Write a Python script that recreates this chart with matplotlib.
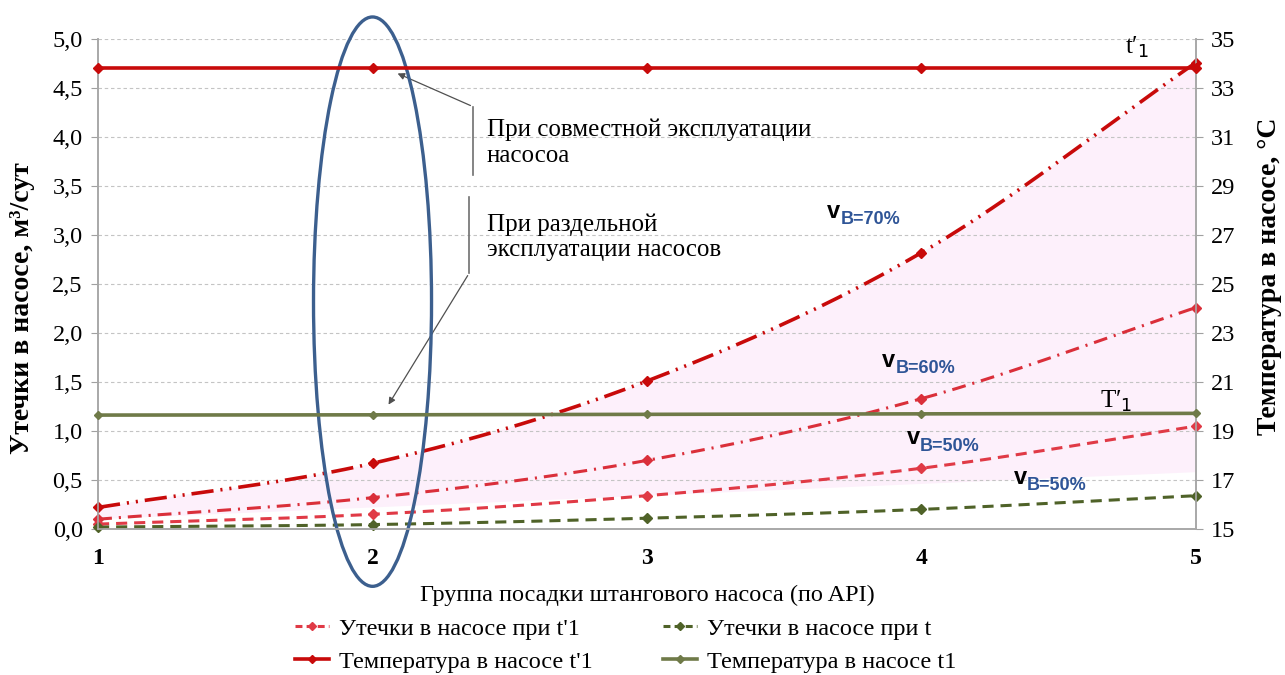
import matplotlib
matplotlib.use('Agg')
import matplotlib.pyplot as plt
from matplotlib.lines import Line2D
from matplotlib.patches import Ellipse
import numpy as np

plt.rcParams['font.family'] = ['Liberation Serif', 'DejaVu Serif']
plt.rcParams['lines.scale_dashes'] = False

# группа посадки (по API)
groups = [1, 2, 3, 4, 5]

# утечки, м3/сут
leak_70 = [0.22, 0.67, 1.51, 2.82, 4.76]
leak_60 = [0.10, 0.32, 0.70, 1.33, 2.26]
leak_50 = [0.05, 0.15, 0.34, 0.62, 1.05]
leak_t = [0.02, 0.045, 0.11, 0.20, 0.34]

# температура, °C
temp_t1p = [33.8, 33.8, 33.8, 33.8, 33.8]
temp_t1 = [19.65, 19.66, 19.68, 19.70, 19.72]

# нижняя граница заливки
shade_x = [5, 1]
shade_low = [0.58, 0.10]

RED = '#c80a0a'
RED2 = '#da2f3a'
RED3 = '#e03a46'
GREEN = '#4f6228'
GREEN2 = '#6f7a48'
BLUE = '#2f5597'


def smooth(x, y, n=40):
    # сглаживание как в Excel (Catmull-Rom)
    x = np.asarray(x, float)
    y = np.asarray(y, float)
    px = np.r_[2 * x[0] - x[1], x, 2 * x[-1] - x[-2]]
    py = np.r_[2 * y[0] - y[1], y, 2 * y[-1] - y[-2]]
    xs, ys = [], []
    t = np.linspace(0, 1, n)
    for i in range(1, len(px) - 2):
        p0, p1, p2, p3 = px[i - 1:i + 3]
        q0, q1, q2, q3 = py[i - 1:i + 3]
        xs.append(0.5 * (2 * p1 + (-p0 + p2) * t + (2 * p0 - 5 * p1 + 4 * p2 - p3) * t ** 2
                         + (-p0 + 3 * p1 - 3 * p2 + p3) * t ** 3))
        ys.append(0.5 * (2 * q1 + (-q0 + q2) * t + (2 * q0 - 5 * q1 + 4 * q2 - q3) * t ** 2
                         + (-q0 + 3 * q1 - 3 * q2 + q3) * t ** 3))
    return np.concatenate(xs), np.concatenate(ys)


fig = plt.figure(figsize=(12.85, 6.75), dpi=100)
ax = fig.add_axes([0.0763, 0.2163, 0.8544, 0.7259])
ax2 = ax.twinx()

# заливка под кривой 70 %
sx, sy = smooth(groups, leak_70)
ax.fill(np.r_[sx, shade_x], np.r_[sy, shade_low], color='#fdf0fb', lw=0, zorder=0)

curves = [
    (leak_70, RED, 2.6, (0, (16, 5, 1.5, 5, 1.5, 5))),
    (leak_60, RED2, 2.2, (0, (10, 5, 1.5, 5))),
    (leak_50, RED3, 2.2, (0, (8, 5))),
    (leak_t, GREEN, 2.2, (0, (8, 5))),
]
for vals, col, lw, ls in curves:
    cx, cy = smooth(groups, vals)
    ax.plot(cx, cy, color=col, lw=lw, linestyle=ls, zorder=3)
    ax.plot(groups, vals, 'D', color=col, ms=5, zorder=4, clip_on=False)

ax2.plot(groups, temp_t1p, color=RED, lw=2.6, marker='D', ms=5, zorder=3, clip_on=False)
ax2.plot(groups, temp_t1, color=GREEN2, lw=2.6, marker='D', ms=4.5, zorder=3, clip_on=False)

ax.set_xlim(1, 5)
ax.set_ylim(0, 5)
ax2.set_ylim(15, 35)
ax.set_xticks(groups)
ax.set_xticklabels([str(g) for g in groups], fontsize=17, fontweight='bold')
yt = np.arange(0, 5.01, 0.5)
ax.set_yticks(yt)
ax.set_yticklabels([f'{v:.1f}'.replace('.', ',') for v in yt], fontsize=17.5)
ax2.set_yticks(np.arange(15, 36, 2))
ax2.tick_params(axis='y', labelsize=17.5, length=5, color='#a0a0a0', pad=6)
ax.tick_params(axis='y', length=5, color='#a0a0a0', pad=6)
ax.tick_params(axis='x', length=0, pad=14)
ax.yaxis.grid(True, linestyle=(0, (2.5, 2)), color='#c4c4c4', lw=0.8)
ax.set_axisbelow(True)
for a in (ax, ax2):
    a.spines['top'].set_visible(False)
    for s in ('left', 'right', 'bottom'):
        a.spines[s].set_color('#a8a8a8')
        a.spines[s].set_linewidth(1.2)

fig.text(23 / 1285, 1 - 308 / 675, 'Утечки в насосе, м³/сут', fontsize=20,
         fontweight='bold', rotation=90, ha='center', va='center')
fig.text(1269 / 1285, 1 - 276 / 675, 'Температура в насосе, °C', fontsize=20,
         fontweight='bold', rotation=90, ha='center', va='center')
fig.text(647 / 1285, 1 - 595 / 675, 'Группа посадки штангового насоса (по API)',
         fontsize=17.5, ha='center', va='center')

# выделение группы 2
ax.add_patch(Ellipse((2, 2.32), 0.43, 5.81, fill=False, ec='#3c5f8e', lw=2.4,
                     clip_on=False, zorder=6))

# пояснения со стрелками
ax.plot([2.366, 2.366], [4.31, 3.61], color='#707070', lw=1.2)
ax.annotate('', xy=(2.082, 4.66), xytext=(2.366, 4.31),
            arrowprops=dict(arrowstyle='-|>', color='#505050', lw=0.9, mutation_scale=10))
ax.text(2.417, 3.94, 'При совместной эксплуатации\nнасосоа', fontsize=18,
        va='center', linespacing=1.2)
ax.plot([2.352, 2.352], [3.39, 2.61], color='#707070', lw=1.2)
ax.annotate('', xy=(2.053, 1.245), xytext=(2.352, 2.61),
            arrowprops=dict(arrowstyle='-|>', color='#505050', lw=0.9, mutation_scale=10))
ax.text(2.417, 2.98, 'При раздельной\nэксплуатации насосов', fontsize=18,
        va='center', linespacing=1.2)

# подписи обводненности
for xv, yv, txt, col in [(3.68, 3.24, 'В=70%', BLUE), (3.88, 1.72, 'В=60%', BLUE),
                         (3.97, 0.93, 'В=50%', BLUE), (4.36, 0.53, 'В=50%', BLUE)]:
    ax.text(xv, yv, 'v', fontsize=17, fontweight='bold', family='Liberation Sans',
            ha='center', va='center', zorder=7)
    ax.annotate(txt, (xv, yv), xytext=(5, -6), textcoords='offset points', fontsize=13,
                fontweight='bold', family='Liberation Sans', color=col, va='center', zorder=7)

ax.text(4.74, 4.91, 't′$_1$', fontsize=18, ha='left', va='center')
ax.text(4.65, 1.30, 'T′$_1$', fontsize=18, ha='left', va='center')

handles = [
    Line2D([], [], color=RED3, lw=2.2, ls=(0, (5, 3)), marker='D', ms=4),
    Line2D([], [], color=RED, lw=2.6, marker='D', ms=4),
    Line2D([], [], color=GREEN, lw=2.2, ls=(0, (5, 3)), marker='D', ms=4),
    Line2D([], [], color=GREEN2, lw=2.6, marker='D', ms=4),
]
labels = ['Утечки в насосе при t\'1', 'Температура в насосе t\'1',
          'Утечки в насосе при t', 'Температура в насосе t1']
fig.legend(handles, labels, ncol=2, loc='center', bbox_to_anchor=(0.487, 0.044),
           frameon=False, fontsize=17.5, handlelength=1.4, handletextpad=0.4,
           columnspacing=2.9, labelspacing=0.45, borderpad=0)

fig.savefig('out.png', dpi=100)
